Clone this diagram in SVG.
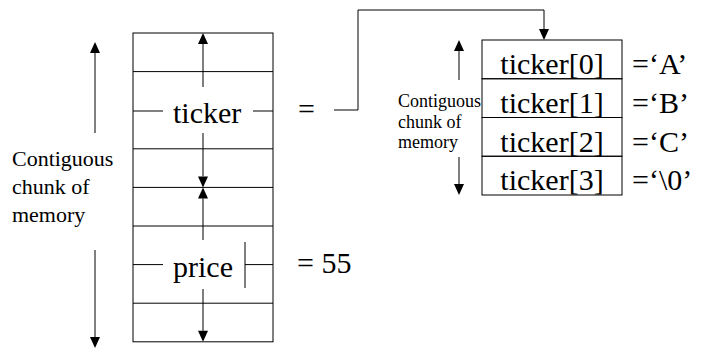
<svg xmlns="http://www.w3.org/2000/svg" width="705" height="350" viewBox="0 0 705 350">
<rect width="705" height="350" fill="#fff"/>

<g id="left-label">
<g stroke="#000" stroke-width="1" fill="none">
<line x1="95" y1="133" x2="95" y2="53"/>
<line x1="95" y1="250" x2="95" y2="337"/>
</g>
<g fill="#000">
<polygon points="95,42 90,53 100,53"/>
<polygon points="95,348 90,337 100,337"/>
</g>
<text font-family="Liberation Serif" font-size="18" transform="translate(12,166) scale(1.2222)">Contiguous</text>
<text font-family="Liberation Serif" font-size="18" transform="translate(12,194) scale(1.2222)">chunk of</text>
<text font-family="Liberation Serif" font-size="18" transform="translate(12,222) scale(1.2222)">memory</text>
</g>

<g id="memory-block" stroke="#000" stroke-width="1" fill="none">
<rect x="133" y="33" width="140" height="308.8"/>
<line x1="133" y1="71.6" x2="273" y2="71.6"/>
<line x1="133" y1="148.8" x2="273" y2="148.8"/>
<line x1="133" y1="187.4" x2="273" y2="187.4"/>
<line x1="133" y1="226" x2="273" y2="226"/>
<line x1="133" y1="303.2" x2="273" y2="303.2"/>
</g>

<g id="ticker">
<g stroke="#000" stroke-width="1" fill="none">
<line x1="133" y1="111" x2="163" y2="111"/>
<line x1="253" y1="111" x2="273" y2="111"/>
<line x1="203" y1="87" x2="203" y2="44"/>
<line x1="203" y1="133" x2="203" y2="176.4"/>
</g>
<g fill="#000">
<polygon points="203,33 198,44 208,44"/>
<polygon points="203,187.4 198,176.4 208,176.4"/>
</g>
<text font-family="Liberation Serif" font-size="18" transform="translate(173,123) scale(1.6667)">ticker</text>
<text font-family="Liberation Serif" font-size="18" transform="translate(298,119) scale(1.6667)">=</text>
</g>

<g id="price">
<g stroke="#000" stroke-width="1" fill="none">
<line x1="133" y1="264.6" x2="163" y2="264.6"/>
<line x1="245" y1="264.6" x2="273" y2="264.6"/>
<line x1="245" y1="242" x2="245" y2="288"/>
<line x1="203" y1="240" x2="203" y2="198.4"/>
<line x1="203" y1="289" x2="203" y2="330.8"/>
</g>
<g fill="#000">
<polygon points="203,187.4 198,198.4 208,198.4"/>
<polygon points="203,341.8 198,330.8 208,330.8"/>
</g>
<text font-family="Liberation Serif" font-size="18" transform="translate(173,277) scale(1.6667)">price</text>
<text font-family="Liberation Serif" font-size="18" transform="translate(297,273) scale(1.6667)">= 55</text>
</g>

<g id="array-label">
<g stroke="#000" stroke-width="1" fill="none">
<line x1="459" y1="80" x2="459" y2="51"/>
<line x1="459" y1="157" x2="459" y2="184"/>
</g>
<g fill="#000">
<polygon points="459,40 454,51 464,51"/>
<polygon points="459,195 454,184 464,184"/>
</g>
<text x="398" y="107" font-family="Liberation Serif" font-size="18">Contiguous</text>
<text x="398" y="128" font-family="Liberation Serif" font-size="18">chunk of</text>
<text x="398" y="148" font-family="Liberation Serif" font-size="18">memory</text>
</g>

<g id="ticker-0">
<rect x="482" y="40" width="140" height="38.75" stroke="#000" stroke-width="1" fill="none"/>
<text text-anchor="middle" font-family="Liberation Serif" font-size="18" transform="translate(552,74) scale(1.6667)">ticker[0]</text>
<text font-family="Liberation Serif" font-size="18" transform="translate(632,74) scale(1.6667)">=‘A’</text>
</g>
<g id="ticker-1">
<rect x="482" y="78.75" width="140" height="38.75" stroke="#000" stroke-width="1" fill="none"/>
<text text-anchor="middle" font-family="Liberation Serif" font-size="18" transform="translate(552,112.75) scale(1.6667)">ticker[1]</text>
<text font-family="Liberation Serif" font-size="18" transform="translate(632,112.75) scale(1.6667)">=‘B’</text>
</g>
<g id="ticker-2">
<rect x="482" y="117.5" width="140" height="38.75" stroke="#000" stroke-width="1" fill="none"/>
<text text-anchor="middle" font-family="Liberation Serif" font-size="18" transform="translate(552,151.5) scale(1.6667)">ticker[2]</text>
<text font-family="Liberation Serif" font-size="18" transform="translate(632,151.5) scale(1.6667)">=‘C’</text>
</g>
<g id="ticker-3">
<rect x="482" y="156.25" width="140" height="38.75" stroke="#000" stroke-width="1" fill="none"/>
<text text-anchor="middle" font-family="Liberation Serif" font-size="18" transform="translate(552,190.25) scale(1.6667)">ticker[3]</text>
<text font-family="Liberation Serif" font-size="18" transform="translate(632,190.25) scale(1.6667)">=‘\0’</text>
</g>

<g id="connectors">
<path d="M334,110 H358 V10 H544 V29" stroke="#000" stroke-width="1" fill="none"/>
<polygon points="544,40 539,29 549,29" fill="#000"/>
</g>
</svg>
